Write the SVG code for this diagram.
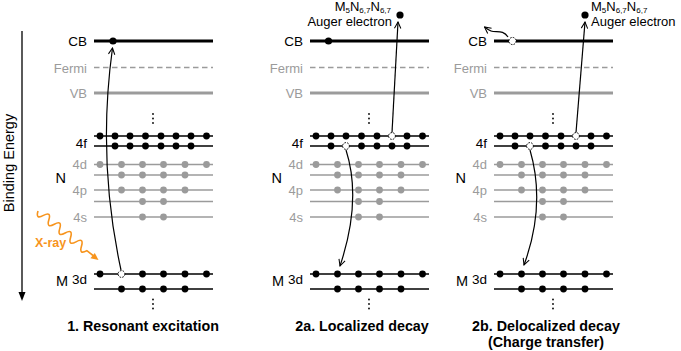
<svg xmlns="http://www.w3.org/2000/svg" width="681" height="351" viewBox="0 0 681 351">
<style>
text{font-family:"Liberation Sans",Arial,Helvetica,sans-serif}
.cb{stroke:#000;stroke-width:2.8}
.vb{stroke:#9b9b9b;stroke-width:2.8}
.fe{stroke:#9b9b9b;stroke-width:1.3;stroke-dasharray:5.5 3.5}
.lk{stroke:#000;stroke-width:1.5}
.lg{stroke:#9b9b9b;stroke-width:1.5}
.e{fill:#000}
.eg{fill:#9b9b9b}
.h{fill:#fff;stroke:#000;stroke-width:1;stroke-dasharray:1.6 1.2}
.dt{fill:#000}
.lb{font-size:13.5px;fill:#000;text-anchor:end}
.lbg{font-size:13px;fill:#9b9b9b;text-anchor:end}
.big{font-size:14.5px;fill:#000;text-anchor:end}
.ttl{font-size:14.3px;font-weight:bold;fill:#000;text-anchor:middle}
.aug{font-size:13px;fill:#000}
.sub{font-size:8px}
.con{fill:none;stroke:#000;stroke-width:1.2}
</style>
<defs>
<marker id="ah" viewBox="0 0 10 10" refX="9" refY="5" markerWidth="8" markerHeight="8" orient="auto" markerUnits="userSpaceOnUse">
<path d="M1,1 L9,5 L1,9" fill="none" stroke="#000" stroke-width="1.3"/>
</marker>
</defs>

<g id="axis">
<line x1="22" y1="31" x2="22" y2="294" stroke="#000" stroke-width="1.3"/>
<polygon points="22,301 18.5,292 25.5,292" fill="#000"/>
<text transform="translate(14,163) rotate(-90)" font-size="14.5" text-anchor="middle" fill="#000">Binding Energy</text>
</g>

<g id="xray">
<path d="M38,211 Q35.34,219.85 43.43,215.40 T48.86,219.81 T54.29,224.21 T59.72,228.62 T65.15,233.02 T70.58,237.43 T76.02,241.83 T81.45,246.23 T86.88,250.64 L93,255.5" fill="none" stroke="#f7941d" stroke-width="1.6"/>
<polygon points="98.5,260 90.4,258.3 94.8,252.9" fill="#f7941d"/>
<text x="35" y="246.5" font-size="12.5" font-weight="bold" fill="#f7941d">X-ray</text>
</g>

<!-- Panel 1 -->
<g id="panel1">
<g id="p1-cb"><line class="cb" x1="94" y1="41" x2="213" y2="41"/><text class="lb" x="87" y="46">CB</text><circle class="e" cx="113" cy="41" r="3.6"/></g>
<g id="p1-fermi"><line class="fe" x1="94" y1="67.5" x2="213" y2="67.5"/><text class="lbg" x="87" y="72.5">Fermi</text></g>
<g id="p1-vb"><line class="vb" x1="94" y1="93" x2="213" y2="93"/><text class="lbg" x="87" y="98">VB</text></g>
<g id="p1-dots1"><circle class="dt" cx="153" cy="114" r="0.9"/><circle class="dt" cx="153" cy="118.5" r="0.9"/><circle class="dt" cx="153" cy="123" r="0.9"/></g>
<g id="p1-4f">
<line class="lk" x1="94" y1="136" x2="213" y2="136"/><line class="lk" x1="94" y1="146" x2="213" y2="146"/>
<text class="lb" x="87" y="148">4f</text>
<circle class="e" cx="100" cy="136" r="3.4"/><circle class="e" cx="115" cy="136" r="3.4"/><circle class="e" cx="130" cy="136" r="3.4"/><circle class="e" cx="145.5" cy="136" r="3.4"/><circle class="e" cx="161" cy="136" r="3.4"/><circle class="e" cx="176" cy="136" r="3.4"/><circle class="e" cx="191" cy="136" r="3.4"/><circle class="e" cx="206.5" cy="136" r="3.4"/>
<circle class="e" cx="115" cy="146" r="3.4"/><circle class="e" cx="130" cy="146" r="3.4"/><circle class="e" cx="145.5" cy="146" r="3.4"/><circle class="e" cx="161" cy="146" r="3.4"/><circle class="e" cx="176" cy="146" r="3.4"/><circle class="e" cx="191" cy="146" r="3.4"/>
</g>
<g id="p1-n">
<text class="big" x="66" y="183">N</text>
<line class="lg" x1="94" y1="164.5" x2="213" y2="164.5"/><line class="lg" x1="94" y1="175" x2="213" y2="175"/><line class="lg" x1="94" y1="190" x2="213" y2="190"/><line class="lg" x1="94" y1="201.5" x2="213" y2="201.5"/><line class="lg" x1="94" y1="217" x2="213" y2="217"/>
<text class="lbg" x="87" y="169">4d</text><text class="lbg" x="87" y="194.5">4p</text><text class="lbg" x="87" y="221.5">4s</text>
<circle class="eg" cx="100" cy="164.5" r="3.4"/><circle class="eg" cx="121.5" cy="164.5" r="3.4"/><circle class="eg" cx="142.5" cy="164.5" r="3.4"/><circle class="eg" cx="163.5" cy="164.5" r="3.4"/><circle class="eg" cx="185" cy="164.5" r="3.4"/><circle class="eg" cx="206.5" cy="164.5" r="3.4"/>
<circle class="eg" cx="121.5" cy="175" r="3.4"/><circle class="eg" cx="142.5" cy="175" r="3.4"/><circle class="eg" cx="163.5" cy="175" r="3.4"/><circle class="eg" cx="185" cy="175" r="3.4"/>
<circle class="eg" cx="121.5" cy="190" r="3.4"/><circle class="eg" cx="142.5" cy="190" r="3.4"/><circle class="eg" cx="163.5" cy="190" r="3.4"/><circle class="eg" cx="185" cy="190" r="3.4"/>
<circle class="eg" cx="142.5" cy="201.5" r="3.4"/><circle class="eg" cx="163.5" cy="201.5" r="3.4"/>
<circle class="eg" cx="142.5" cy="217" r="3.4"/><circle class="eg" cx="163.5" cy="217" r="3.4"/>
</g>
<g id="p1-m">
<text class="big" x="68" y="285.5">M</text><text class="lb" x="87" y="283.5">3d</text>
<line class="lk" x1="94" y1="274" x2="213" y2="274"/><line class="lk" x1="94" y1="289" x2="213" y2="289"/>
<circle class="e" cx="100" cy="274" r="3.4"/><circle class="h" cx="121.5" cy="274" r="3.4"/><circle class="e" cx="142.5" cy="274" r="3.4"/><circle class="e" cx="163.5" cy="274" r="3.4"/><circle class="e" cx="185" cy="274" r="3.4"/><circle class="e" cx="206.5" cy="274" r="3.4"/>
<circle class="e" cx="121.5" cy="289" r="3.4"/><circle class="e" cx="142.5" cy="289" r="3.4"/><circle class="e" cx="163.5" cy="289" r="3.4"/><circle class="e" cx="185" cy="289" r="3.4"/>
</g>
<g id="p1-dots2"><circle class="dt" cx="153" cy="299.5" r="0.9"/><circle class="dt" cx="153" cy="304" r="0.9"/><circle class="dt" cx="153" cy="308.5" r="0.9"/></g>
<text class="ttl" x="143" y="331">1. Resonant excitation</text>
</g>

<!-- Panel 2 -->
<g id="panel2" transform="translate(216,0)">
<g id="p2-cb"><line class="cb" x1="94" y1="41" x2="213" y2="41"/><text class="lb" x="87" y="46">CB</text><circle class="e" cx="112.5" cy="41" r="3.6"/></g>
<g id="p2-fermi"><line class="fe" x1="94" y1="67.5" x2="213" y2="67.5"/><text class="lbg" x="87" y="72.5">Fermi</text></g>
<g id="p2-vb"><line class="vb" x1="94" y1="93" x2="213" y2="93"/><text class="lbg" x="87" y="98">VB</text></g>
<g id="p2-dots1"><circle class="dt" cx="153" cy="114" r="0.9"/><circle class="dt" cx="153" cy="118.5" r="0.9"/><circle class="dt" cx="153" cy="123" r="0.9"/></g>
<g id="p2-4f">
<line class="lk" x1="94" y1="136" x2="213" y2="136"/><line class="lk" x1="94" y1="146" x2="213" y2="146"/>
<text class="lb" x="87" y="148">4f</text>
<circle class="e" cx="100" cy="136" r="3.4"/><circle class="e" cx="115" cy="136" r="3.4"/><circle class="e" cx="130" cy="136" r="3.4"/><circle class="e" cx="145.5" cy="136" r="3.4"/><circle class="e" cx="161" cy="136" r="3.4"/><circle class="h" cx="176" cy="136" r="3.4"/><circle class="e" cx="191" cy="136" r="3.4"/><circle class="e" cx="206.5" cy="136" r="3.4"/>
<circle class="e" cx="115" cy="146" r="3.4"/><circle class="h" cx="130" cy="146" r="3.4"/><circle class="e" cx="145.5" cy="146" r="3.4"/><circle class="e" cx="161" cy="146" r="3.4"/><circle class="e" cx="176" cy="146" r="3.4"/><circle class="e" cx="191" cy="146" r="3.4"/>
</g>
<g id="p2-n">
<text class="big" x="66" y="183">N</text>
<line class="lg" x1="94" y1="164.5" x2="213" y2="164.5"/><line class="lg" x1="94" y1="175" x2="213" y2="175"/><line class="lg" x1="94" y1="190" x2="213" y2="190"/><line class="lg" x1="94" y1="201.5" x2="213" y2="201.5"/><line class="lg" x1="94" y1="217" x2="213" y2="217"/>
<text class="lbg" x="87" y="169">4d</text><text class="lbg" x="87" y="194.5">4p</text><text class="lbg" x="87" y="221.5">4s</text>
<circle class="eg" cx="100" cy="164.5" r="3.4"/><circle class="eg" cx="121.5" cy="164.5" r="3.4"/><circle class="eg" cx="142.5" cy="164.5" r="3.4"/><circle class="eg" cx="163.5" cy="164.5" r="3.4"/><circle class="eg" cx="185" cy="164.5" r="3.4"/><circle class="eg" cx="206.5" cy="164.5" r="3.4"/>
<circle class="eg" cx="121.5" cy="175" r="3.4"/><circle class="eg" cx="142.5" cy="175" r="3.4"/><circle class="eg" cx="163.5" cy="175" r="3.4"/><circle class="eg" cx="185" cy="175" r="3.4"/>
<circle class="eg" cx="121.5" cy="190" r="3.4"/><circle class="eg" cx="142.5" cy="190" r="3.4"/><circle class="eg" cx="163.5" cy="190" r="3.4"/><circle class="eg" cx="185" cy="190" r="3.4"/>
<circle class="eg" cx="142.5" cy="201.5" r="3.4"/><circle class="eg" cx="163.5" cy="201.5" r="3.4"/>
<circle class="eg" cx="142.5" cy="217" r="3.4"/><circle class="eg" cx="163.5" cy="217" r="3.4"/>
</g>
<g id="p2-m">
<text class="big" x="68" y="285.5">M</text><text class="lb" x="87" y="283.5">3d</text>
<line class="lk" x1="94" y1="274" x2="213" y2="274"/><line class="lk" x1="94" y1="289" x2="213" y2="289"/>
<circle class="e" cx="100" cy="274" r="3.4"/><circle class="e" cx="121.5" cy="274" r="3.4"/><circle class="e" cx="142.5" cy="274" r="3.4"/><circle class="e" cx="163.5" cy="274" r="3.4"/><circle class="e" cx="185" cy="274" r="3.4"/><circle class="e" cx="206.5" cy="274" r="3.4"/>
<circle class="e" cx="121.5" cy="289" r="3.4"/><circle class="e" cx="142.5" cy="289" r="3.4"/><circle class="e" cx="163.5" cy="289" r="3.4"/><circle class="e" cx="185" cy="289" r="3.4"/>
</g>
<g id="p2-dots2"><circle class="dt" cx="153" cy="299.5" r="0.9"/><circle class="dt" cx="153" cy="304" r="0.9"/><circle class="dt" cx="153" cy="308.5" r="0.9"/></g>
<g id="p2-auger">
<circle class="e" cx="184" cy="15" r="3.6"/>
<text class="aug" x="175" y="10.5" text-anchor="end">M<tspan class="sub" dy="2">5</tspan><tspan dy="-2">N</tspan><tspan class="sub" dy="2">6,7</tspan><tspan dy="-2">N</tspan><tspan class="sub" dy="2">6,7</tspan></text>
<text class="aug" x="176" y="26" text-anchor="end">Auger electron</text>
</g>
<text class="ttl" x="146" y="331">2a. Localized decay</text>
</g>

<!-- Panel 3 -->
<g id="panel3" transform="translate(400,0)">
<g id="p3-cb"><line class="cb" x1="94" y1="41" x2="213" y2="41"/><text class="lb" x="87" y="46">CB</text><circle class="h" cx="112.5" cy="41" r="3.6"/></g>
<g id="p3-fermi"><line class="fe" x1="94" y1="67.5" x2="213" y2="67.5"/><text class="lbg" x="87" y="72.5">Fermi</text></g>
<g id="p3-vb"><line class="vb" x1="94" y1="93" x2="213" y2="93"/><text class="lbg" x="87" y="98">VB</text></g>
<g id="p3-dots1"><circle class="dt" cx="153" cy="114" r="0.9"/><circle class="dt" cx="153" cy="118.5" r="0.9"/><circle class="dt" cx="153" cy="123" r="0.9"/></g>
<g id="p3-4f">
<line class="lk" x1="94" y1="136" x2="213" y2="136"/><line class="lk" x1="94" y1="146" x2="213" y2="146"/>
<text class="lb" x="87" y="148">4f</text>
<circle class="e" cx="100" cy="136" r="3.4"/><circle class="e" cx="115" cy="136" r="3.4"/><circle class="e" cx="130" cy="136" r="3.4"/><circle class="e" cx="145.5" cy="136" r="3.4"/><circle class="e" cx="161" cy="136" r="3.4"/><circle class="h" cx="176" cy="136" r="3.4"/><circle class="e" cx="191" cy="136" r="3.4"/><circle class="e" cx="206.5" cy="136" r="3.4"/>
<circle class="e" cx="115" cy="146" r="3.4"/><circle class="h" cx="130" cy="146" r="3.4"/><circle class="e" cx="145.5" cy="146" r="3.4"/><circle class="e" cx="161" cy="146" r="3.4"/><circle class="e" cx="176" cy="146" r="3.4"/><circle class="e" cx="191" cy="146" r="3.4"/>
</g>
<g id="p3-n">
<text class="big" x="66" y="183">N</text>
<line class="lg" x1="94" y1="164.5" x2="213" y2="164.5"/><line class="lg" x1="94" y1="175" x2="213" y2="175"/><line class="lg" x1="94" y1="190" x2="213" y2="190"/><line class="lg" x1="94" y1="201.5" x2="213" y2="201.5"/><line class="lg" x1="94" y1="217" x2="213" y2="217"/>
<text class="lbg" x="87" y="169">4d</text><text class="lbg" x="87" y="194.5">4p</text><text class="lbg" x="87" y="221.5">4s</text>
<circle class="eg" cx="100" cy="164.5" r="3.4"/><circle class="eg" cx="121.5" cy="164.5" r="3.4"/><circle class="eg" cx="142.5" cy="164.5" r="3.4"/><circle class="eg" cx="163.5" cy="164.5" r="3.4"/><circle class="eg" cx="185" cy="164.5" r="3.4"/><circle class="eg" cx="206.5" cy="164.5" r="3.4"/>
<circle class="eg" cx="121.5" cy="175" r="3.4"/><circle class="eg" cx="142.5" cy="175" r="3.4"/><circle class="eg" cx="163.5" cy="175" r="3.4"/><circle class="eg" cx="185" cy="175" r="3.4"/>
<circle class="eg" cx="121.5" cy="190" r="3.4"/><circle class="eg" cx="142.5" cy="190" r="3.4"/><circle class="eg" cx="163.5" cy="190" r="3.4"/><circle class="eg" cx="185" cy="190" r="3.4"/>
<circle class="eg" cx="142.5" cy="201.5" r="3.4"/><circle class="eg" cx="163.5" cy="201.5" r="3.4"/>
<circle class="eg" cx="142.5" cy="217" r="3.4"/><circle class="eg" cx="163.5" cy="217" r="3.4"/>
</g>
<g id="p3-m">
<text class="big" x="68" y="285.5">M</text><text class="lb" x="87" y="283.5">3d</text>
<line class="lk" x1="94" y1="274" x2="213" y2="274"/><line class="lk" x1="94" y1="289" x2="213" y2="289"/>
<circle class="e" cx="100" cy="274" r="3.4"/><circle class="e" cx="121.5" cy="274" r="3.4"/><circle class="e" cx="142.5" cy="274" r="3.4"/><circle class="e" cx="163.5" cy="274" r="3.4"/><circle class="e" cx="185" cy="274" r="3.4"/><circle class="e" cx="206.5" cy="274" r="3.4"/>
<circle class="e" cx="121.5" cy="289" r="3.4"/><circle class="e" cx="142.5" cy="289" r="3.4"/><circle class="e" cx="163.5" cy="289" r="3.4"/><circle class="e" cx="185" cy="289" r="3.4"/>
</g>
<g id="p3-dots2"><circle class="dt" cx="153" cy="299.5" r="0.9"/><circle class="dt" cx="153" cy="304" r="0.9"/><circle class="dt" cx="153" cy="308.5" r="0.9"/></g>
<g id="p3-auger">
<circle class="e" cx="185" cy="15" r="3.6"/>
<text class="aug" x="191" y="10.5">M<tspan class="sub" dy="2">5</tspan><tspan dy="-2">N</tspan><tspan class="sub" dy="2">6,7</tspan><tspan dy="-2">N</tspan><tspan class="sub" dy="2">6,7</tspan></text>
<text class="aug" x="191" y="26">Auger electron</text>
</g>
<text class="ttl" x="146" y="331">2b. Delocalized decay</text>
<text class="ttl" x="146" y="347">(Charge transfer)</text>
</g>

<g id="connectors">
<path class="con" d="M121,270 Q97,160 112.5,48" marker-end="url(#ah)"/>
<path class="con" d="M392,132.5 L398,22" marker-end="url(#ah)"/>
<path class="con" d="M346,150 Q362,200 340,266" marker-end="url(#ah)"/>
<path class="con" d="M576,132.5 L585,22" marker-end="url(#ah)"/>
<path class="con" d="M530,150 Q546,205 524,265" marker-end="url(#ah)"/>
<path class="con" d="M508,37 C503,29 496,33 491,31 C488.5,30 486.5,28.5 484.5,27" marker-end="url(#ah)"/>
</g>
</svg>
